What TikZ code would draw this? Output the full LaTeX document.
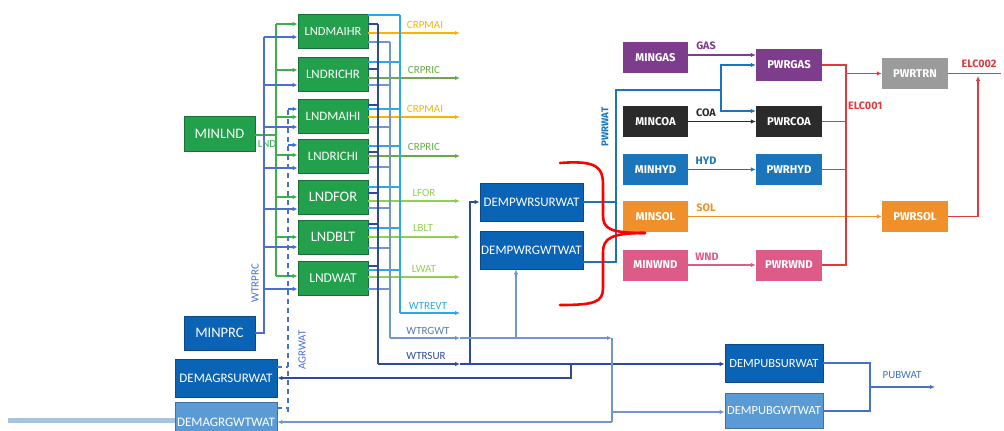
\documentclass[tikz,border=0pt]{standalone}
\usepackage{fontspec}
\setmainfont{Carlito}
\newfontfamily\rfont{Fira Sans}
\usetikzlibrary{arrows.meta,calc}
\definecolor{lgreen}{HTML}{22A04B}
\definecolor{lgreendk}{HTML}{17703A}
\definecolor{dblue}{HTML}{0B63B5}
\definecolor{dbluedk}{HTML}{0A4A86}
\definecolor{lblue}{HTML}{5B9BD5}
\definecolor{lbluedk}{HTML}{41719C}
\definecolor{cgas}{HTML}{7D3C8C}
\definecolor{ccoa}{HTML}{2B2B2B}
\definecolor{chyd}{HTML}{1B75BB}
\definecolor{csol}{HTML}{F0902A}
\definecolor{cwnd}{HTML}{DC5B87}
\definecolor{cgray}{HTML}{9B9B9B}
\definecolor{celc}{HTML}{E0393E}
\definecolor{lndcol}{HTML}{3CB04A}
\definecolor{prccol}{HTML}{4A6FD0}
\definecolor{evtcol}{HTML}{29A9E8}
\definecolor{surcol}{HTML}{2F4A9A}
\definecolor{gwtcol}{HTML}{7096D0}
\definecolor{maicol}{HTML}{F7B500}
\definecolor{riccol}{HTML}{6AAB48}
\definecolor{lfcol}{HTML}{92CF50}
\definecolor{barblue}{HTML}{A9C3DF}
\definecolor{pubcol}{HTML}{4472C4}
\begin{document}
\begin{tikzpicture}[x=1pt,y=-1pt,
  box/.style={draw, line width=0.8pt, text=white, inner sep=0pt,
    font=\fontsize{13}{15}\selectfont},
  fs/.style={font=\fontsize{#1}{#1}\selectfont},
  gbox/.style={box, fill=lgreen, draw=lgreendk, minimum width=70pt, minimum height=34pt},
  dbox/.style={box, fill=dblue, draw=dbluedk, minimum width=103pt, minimum height=38pt},
  lbox/.style={box, fill=lblue, draw=lbluedk, minimum width=102pt, minimum height=38pt},
  rbox/.style={draw=none, text=white, inner sep=0pt, minimum width=65pt, minimum height=31pt,
    font=\rfont\bfseries\fontsize{11.3}{13}\selectfont},
  arr/.style={-{Latex[length=5pt,width=4.5pt]}},
  lab/.style={inner sep=0pt, font=\fontsize{11}{13}\selectfont},
  rlab/.style={inner sep=0pt, font=\rfont\bfseries\fontsize{10.8}{12}\selectfont},
  lndl/.style={draw=lndcol, line width=1.1pt},
  prcl/.style={draw=prccol, line width=1.1pt},
  agrl/.style={draw=prccol, line width=1.1pt, dash pattern=on 5pt off 4pt},
  evtl/.style={draw=evtcol, line width=1.1pt},
  surl/.style={draw=surcol, line width=1.1pt},
  gwtl/.style={draw=gwtcol, line width=1.1pt},
  pwl/.style={draw=chyd, line width=1.2pt},
  elc/.style={draw=celc, line width=1.5pt},
]
\useasboundingbox (0,0) rectangle (1004,431);

% ---------- nodes: left ----------
\node[gbox, fs=14.5, minimum width=71pt, minimum height=35pt] (MINLND) at (219.5,133.5) {MINLND};
\node[gbox, fs=12.5] (LNDMAIHR) at (333,31) {LNDMAIHR};
\node[gbox, fs=12.9] (LNDRICHR) at (333,74) {LNDRICHR};
\node[gbox, fs=12.9] (LNDMAIHI) at (333,116) {LNDMAIHI};
\node[gbox, fs=12.9] (LNDRICHI) at (333,156) {LNDRICHI};
\node[gbox, fs=14.5] (LNDFOR) at (333,197) {LNDFOR};
\node[gbox, fs=14.5] (LNDBLT) at (333,237) {LNDBLT};
\node[gbox, fs=13.5] (LNDWAT) at (333,278) {LNDWAT};
\node[dbox, fs=14.5, minimum width=71pt, minimum height=34pt] (MINPRC) at (219.5,333) {MINPRC};
\node[dbox, minimum width=102pt] (DEMAGRSURWAT) at (226,378) {DEMAGRSURWAT};
\node[lbox, minimum height=40pt] (DEMAGRGWTWAT) at (226,422) {DEMAGRGWTWAT};
\node[dbox] (DEMPWRSURWAT) at (531.5,202) {DEMPWRSURWAT};
\node[dbox] (DEMPWRGWTWAT) at (531.5,250) {DEMPWRGWTWAT};
\node[dbox, fs=12.5, minimum width=98pt] (DEMPUBSURWAT) at (774,363) {DEMPUBSURWAT};
\node[lbox, fs=12.5, minimum width=98pt, minimum height=35pt] (DEMPUBGWTWAT) at (774,410.5) {DEMPUBGWTWAT};

% ---------- nodes: right ----------
\node[rbox, fill=cgas] (MINGAS) at (655.5,57.5) {MINGAS};
\node[rbox, fill=cgas, minimum width=66pt, minimum height=32pt] (PWRGAS) at (789,65) {PWRGAS};
\node[rbox, fill=cgray, minimum width=66pt] (PWRTRN) at (915,73.5) {PWRTRN};
\node[rbox, fill=ccoa] (MINCOA) at (655.5,121.5) {MINCOA};
\node[rbox, fill=ccoa, minimum width=66pt] (PWRCOA) at (789,121.5) {PWRCOA};
\node[rbox, fill=chyd] (MINHYD) at (655.5,169.5) {MINHYD};
\node[rbox, fill=chyd, minimum width=66pt] (PWRHYD) at (789,169.5) {PWRHYD};
\node[rbox, fill=csol] (MINSOL) at (655.5,216.5) {MINSOL};
\node[rbox, fill=csol, minimum width=66pt] (PWRSOL) at (915,216.5) {PWRSOL};
\node[rbox, fill=cwnd] (MINWND) at (655.5,265) {MINWND};
\node[rbox, fill=cwnd, minimum width=66pt] (PWRWND) at (789,265) {PWRWND};

% ---------- left inputs ----------
\coordinate (btr) at (264,0);
\draw[lndl] (MINLND.east |- 0,135) -- (276,135);
\draw[lndl] (276,24) -- (276,276);
\draw[prcl] (MINPRC.east) -- (MINPRC.east -| btr) -- (264,37);
\foreach \n/\g/\b in {LNDMAIHR/24/37, LNDRICHR/70/85, LNDMAIHI/117/127, LNDRICHI/155/168, LNDFOR/197/209, LNDBLT/237/247, LNDWAT/276/289}{
  \draw[lndl, arr] (276,\g) -- (\n.west |- 0,\g);
  \draw[prcl, arr] (264,\b) -- (\n.west |- 0,\b);
}
% AGRWAT dashed
\draw[agrl] (DEMAGRSURWAT.east |- 0,367) -- (288,367);
\draw[agrl] (DEMAGRGWTWAT.east |- 0,408) -- (288,408);
\draw[agrl] (288,412) -- (288,109);
\draw[agrl, arr] (288,109) -- (LNDMAIHI.west |- 0,109);
\draw[agrl, arr] (288,145) -- (LNDRICHI.west |- 0,145);

% ---------- left outputs ----------
\foreach \n/\c/\s/\p/\m/\pc in {LNDMAIHR/15/24/33/42/maicol, LNDRICHR/62/69/78/85/riccol, LNDMAIHI/109/105/117/127/maicol, LNDRICHI/146/152/156/167/riccol, LNDFOR/187/193/201/208/lfcol, LNDBLT/228/224/237/248/lfcol, LNDWAT/270/266/277/289/lfcol}{
  \draw[evtl] (\n.east |- 0,\c) -- (400,\c);
  \draw[surl] (\n.east |- 0,\s) -- (378,\s);
  \draw[gwtl] (\n.east |- 0,\m) -- (390,\m);
  \draw[draw=\pc, line width=1.2pt, arr] (\n.east |- 0,\p) -- (460,\p);
}
\draw[evtl] (400,15) -- (400,313);
\draw[evtl, arr] (400,313) -- (460,313);
\draw[surl] (378,24) -- (378,364);
\draw[gwtl] (390,42) -- (390,338);

% WTRSUR
\draw[surl, arr] (378,364) -- (460,364);
\draw[surl, arr] (460,364) -- (DEMPUBSURWAT.west |- 0,364);
\draw[surl, arr] (470,364) -- (470,202) -- (DEMPWRSURWAT.west);
\draw[surl, arr] (571,364) -- (571,378) -- (DEMAGRSURWAT.east |- 0,378);
% WTRGWT
\draw[gwtl, arr] (390,338) -- (460,338);
\draw[gwtl, arr] (460,338) -- (612,338);
\draw[gwtl] (612,338) -- (612,422);
\draw[gwtl, arr] (612,412) -- (DEMPUBGWTWAT.west |- 0,412);
\draw[gwtl, arr] (612,422) -- (DEMAGRGWTWAT.east |- 0,422);
\draw[gwtl, arr] (516,338) -- (DEMPWRGWTWAT.south -| 516,0);

% PUBWAT
\draw[draw=pubcol, line width=1.1pt] (DEMPUBSURWAT.east) -- (870,363) -- (870,411) -- (DEMPUBGWTWAT.east |- 0,411);
\draw[draw=pubcol, line width=1.1pt, arr] (870,387) -- (935,387);

% bar at left
\coordinate (barend) at (8,420);
\draw[line width=5pt, draw=barblue] (barend) -- (DEMAGRGWTWAT.west |- barend);

% ---------- labels left ----------
\node[lab, text=lndcol] at (267,144) {LND};
\node[lab, text=prccol, rotate=90] at (255,283) {WTRPRC};
\node[lab, text=prccol, rotate=90] at (302,350) {AGRWAT};
\node[lab, text=maicol] at (425,25) {CRPMAI};
\node[lab, text=riccol] at (424,70) {CRPRIC};
\node[lab, text=maicol] at (425,109) {CRPMAI};
\node[lab, text=riccol] at (424,147) {CRPRIC};
\node[lab, text=lfcol] at (424,193) {LFOR};
\node[lab, text=lfcol] at (423,228) {LBLT};
\node[lab, text=lfcol] at (424,269) {LWAT};
\node[lab, text=evtcol] at (428,306) {WTREVT};
\node[lab, text=gwtcol!80!black] at (428,331) {WTRGWT};
\node[lab, text=surcol] at (426,356) {WTRSUR};
\node[lab, text=pubcol] at (902,375) {PUBWAT};

% ---------- right connectors ----------
\draw[draw=cgas, line width=1.4pt, arr] (MINGAS.east |- 0,55) -- (PWRGAS.west |- 0,55);
\draw[draw=ccoa, line width=1.4pt, arr] (MINCOA.east) -- (PWRCOA.west);
\draw[draw=chyd, line width=1.4pt, arr] (MINHYD.east) -- (PWRHYD.west);
\draw[draw=csol, line width=1.4pt, arr] (MINSOL.east) -- (PWRSOL.west);
\draw[draw=cwnd, line width=1.4pt, arr] (MINWND.east) -- (PWRWND.west);
\node[rlab, text=cgas] at (706,46) {GAS};
\node[rlab, text=ccoa] at (706,113) {COA};
\node[rlab, text=chyd] at (706,161) {HYD};
\node[rlab, text=csol] at (706,208) {SOL};
\node[rlab, text=cwnd] at (707,257) {WND};

% PWRWAT
\coordinate (pw) at (616,0);
\draw[pwl] (DEMPWRSURWAT.east) -- (DEMPWRSURWAT.east -| pw);
\draw[pwl] (DEMPWRGWTWAT.east |- 0,262) -- (616,262) -- (616,90) -- (721,90);
\draw[pwl, arr] (721,90) |- (PWRGAS.west);
\draw[pwl, arr] (721,90) |- (PWRCOA.west |- 0,111);
\node[rlab, text=chyd, rotate=90, font=\rfont\bfseries\fontsize{9.8}{11}\selectfont] at (605,127) {PWRWAT};

% ELC
\coordinate (bus1) at (846,0);
\coordinate (bus2) at (978,0);
\draw[elc] (PWRGAS.east) -- (PWRGAS.east -| bus1) -- (PWRWND.east -| bus1) -- (PWRWND.east);
\draw[elc] (PWRCOA.east) -- (PWRCOA.east -| bus1);
\draw[elc] (PWRHYD.east) -- (PWRHYD.east -| bus1);
\draw[elc, arr] (PWRTRN.west -| bus1) -- (PWRTRN.west);
\coordinate (elcend) at (1001,73.5);
\draw[elc] (PWRTRN.east) -- (elcend);
\draw[elc, arr] (PWRSOL.east) -- (PWRSOL.east -| bus2) -- (978,76);
\node[rlab, text=celc, anchor=west] at (848,106) {ELC001};
\node[rlab, text=celc] at (979,64) {ELC002};

% red brace
\draw[draw=red, line width=2.6pt, line cap=round]
  (560,163) .. controls (598,160) and (603,168) .. (603,185) -- (603,215)
  .. controls (603,229) and (610,233) .. (645,233);
\draw[draw=red, line width=2.6pt, line cap=round]
  (645,233) .. controls (612,233) and (603,238) .. (603,252) -- (603,288)
  .. controls (603,302) and (595,305) .. (560,305);
\end{tikzpicture}
\end{document}
